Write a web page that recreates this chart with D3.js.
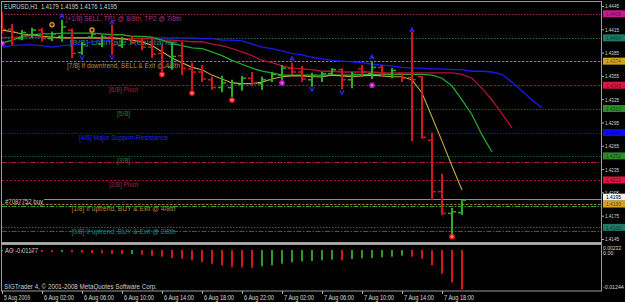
<!DOCTYPE html>
<html><head><meta charset="utf-8">
<script src="https://cdn.jsdelivr.net/npm/d3@7"></script>
<style>
html,body{margin:0;padding:0;background:#000;}
svg{display:block;}
text{font-family:"Liberation Sans",Arial,sans-serif;white-space:pre;}
</style></head><body>
<svg id="c" width="625" height="302"></svg>
<script>
// ---------------- DATA ----------------
const symbolTitle = "EURUSD,H1";
const firstBarTime = Date.UTC(2009, 7, 5, 22);   // 5 Aug 2009 22:00, H1 bars
const barOpen  = [1.4432,1.4415,1.4403,1.4408,1.4414,1.4403,1.4406,1.4414,1.4385,1.4405,1.4396,1.4405,1.4394,1.4402,1.4400,1.4392,1.4384,1.4366,1.4381,1.4364,1.4360,1.4350,1.4340,1.4340,1.4344,1.4352,1.4345,1.4350,1.4356,1.4365,1.4360,1.4350,1.4354,1.4358,1.4363,1.4350,1.4364,1.4358,1.4366,1.4357,1.4358,1.4353,1.4354,1.4272,1.4206,1.4178,1.4179];
const barHigh  = [1.4438,1.4422,1.4414,1.4417,1.4417,1.4412,1.4427,1.4416,1.4399,1.4411,1.4408,1.4421,1.4405,1.4406,1.4404,1.4404,1.4395,1.4399,1.4399,1.4372,1.4369,1.4354,1.4355,1.4350,1.4355,1.4360,1.4354,1.4360,1.4369,1.4372,1.4368,1.4359,1.4360,1.4365,1.4365,1.4360,1.4369,1.4374,1.4369,1.4365,1.4359,1.4412,1.4355,1.4282,1.4229,1.4185,1.4195];
const barLow   = [1.4410,1.4395,1.4401,1.4404,1.4399,1.4400,1.4399,1.4378,1.4382,1.4403,1.4392,1.4382,1.4391,1.4396,1.4388,1.4378,1.4360,1.4363,1.4356,1.4337,1.4347,1.4337,1.4334,1.4328,1.4336,1.4342,1.4337,1.4347,1.4350,1.4356,1.4347,1.4341,1.4347,1.4357,1.4338,1.4339,1.4356,1.4351,1.4354,1.4352,1.4347,1.4271,1.4274,1.4195,1.4176,1.4150,1.4176];
const barClose = [1.4415,1.4402,1.4411,1.4414,1.4403,1.4409,1.4418,1.4384,1.4395,1.4409,1.4405,1.4395,1.4402,1.4398,1.4392,1.4383,1.4366,1.4380,1.4365,1.4360,1.4351,1.4340,1.4346,1.4346,1.4352,1.4345,1.4350,1.4357,1.4365,1.4360,1.4351,1.4355,1.4358,1.4363,1.4350,1.4357,1.4360,1.4366,1.4358,1.4362,1.4352,1.4350,1.4276,1.4206,1.4178,1.4180,1.4195];

// moving average (unshifted, yellow)
const maYellow = [1.4414,1.4412,1.4409,1.4408,1.4406,1.4405,1.4404,1.4404,1.4404,1.4404,1.4404,1.4404,1.4403,1.4401,1.4399,1.4394,1.4386,1.4378,1.4372,1.4366,1.4363,1.4356,1.4351,1.4346,1.4345,1.4345,1.4347,1.4351,1.4354,1.4355,1.4355,1.4354,1.4354,1.4356,1.4355,1.4354,1.4355,1.4356,1.4355,1.4354,1.4354,1.4350,1.4333,1.4302,1.4271,1.4239,1.4208];
// Alligator lines, listed by plotted bar position (already shifted forward)
const alligatorLips  = [1.4397,1.4401,1.4406,1.4408,1.4409,1.4409,1.4410,1.4410,1.4410,1.4410,1.4409,1.4408,1.4408,1.4406,1.4406,1.4405,1.4401,1.4397,1.4394,1.4391,1.4390,1.4386,1.4381,1.4375,1.4370,1.4365,1.4361,1.4359,1.4356,1.4356,1.4356,1.4356,1.4356,1.4356,1.4356,1.4356,1.4357,1.4357,1.4357,1.4357,1.4357,1.4357,1.4357,1.4356,1.4352,1.4342,1.4324,1.4305,1.4279,1.4257];
const alligatorTeeth = [1.4404,1.4405,1.4405,1.4405,1.4405,1.4404,1.4404,1.4404,1.4404,1.4404,1.4403,1.4403,1.4403,1.4403,1.4403,1.4403,1.4401,1.4401,1.4400,1.4399,1.4399,1.4396,1.4394,1.4390,1.4386,1.4381,1.4375,1.4372,1.4368,1.4365,1.4364,1.4363,1.4361,1.4361,1.4360,1.4360,1.4360,1.4360,1.4359,1.4359,1.4359,1.4359,1.4359,1.4359,1.4359,1.4359,1.4357,1.4352,1.4339,1.4324,1.4306,1.4288];
const alligatorJaw   = [1.4392,1.4394,1.4395,1.4395,1.4394,1.4392,1.4394,1.4395,1.4396,1.4399,1.4400,1.4401,1.4403,1.4403,1.4404,1.4404,1.4404,1.4404,1.4404,1.4404,1.4403,1.4403,1.4401,1.4401,1.4400,1.4396,1.4392,1.4390,1.4387,1.4384,1.4382,1.4379,1.4377,1.4375,1.4374,1.4373,1.4372,1.4370,1.4369,1.4368,1.4366,1.4365,1.4365,1.4364,1.4364,1.4363,1.4363,1.4361,1.4361,1.4360,1.4357,1.4347,1.4336,1.4324,1.4314];

// Awesome Oscillator
const aoValues = [-0.0004,-0.0004,-0.0005,-0.0006,-0.0006,-0.0007,-0.0006,-0.0007,-0.0008,-0.0009,-0.0010,-0.0012,-0.0013,-0.0012,-0.0014,-0.0017,-0.0020,-0.0024,-0.0026,-0.0031,-0.0036,-0.0041,-0.0046,-0.0051,-0.0052,-0.0053,-0.0049,-0.0046,-0.0041,-0.0037,-0.0034,-0.0033,-0.0031,-0.0029,-0.0031,-0.0027,-0.0025,-0.0024,-0.0022,-0.0020,-0.0017,-0.0020,-0.0026,-0.0046,-0.0071,-0.0097,-0.01177];
const aoAxisValues = [0.00232, 0, -0.01244];
const aoAxisLabels = ["0.00232", "0.00", "-0.01244"];

// signal markers
const fractalUpIdx   = [6, 11, 29, 37, 41];
const fractalUpPrice = [1.4432, 1.4424, 1.4377, 1.4379, 1.4414];
const fractalDnIdx   = [8, 11, 31, 34];
const fractalDnPrice = [1.4379, 1.4379, 1.4338, 1.4334];
const orangeSigIdx   = [5, 9];
const orangeSigPrice = [1.4421, 1.4414];
const redSigIdx      = [16, 19, 23, 45];
const redSigPrice    = [1.4357, 1.4333, 1.4324, 1.4148];
const magSigIdx      = [0, 28, 37];
const magSigPrice    = [1.4397, 1.4346, 1.4343];

// Murrey math levels
const mmLevels = [1.4435, 1.4404, 1.4374, 1.4343, 1.4313, 1.4282, 1.4252, 1.4221, 1.4190, 1.4160];
const mmLabels = ["[+1/8] SELL, TP1 @ 8/8th, TP2 @ 7/8th", "[8/8] Ultimate Resistance", "[7/8] If downtrend, SELL & Exit @ 4/8th", "[6/8] Pivot", "[5/8]", "[4/8] Major Support-Resistance", "[3/8]", "[2/8] Pivot", "[1/8] If uptrend, BUY & Exit @ 4/8th", "[0/8] If uptrend, BUY & Exit @ 2/8th"];

// order / price lines
const orderTicket = "#7087752 buy";
const orderOpenPrice = 1.4188;
const takeProfitPrice = 1.4244;
const stopLossPrice = 1.41555;
const bidPrice = 1.4195;

// axis ticks
const priceTicks = [1.4445, 1.4415, 1.4385, 1.4355, 1.4325, 1.4295, 1.4265, 1.4235, 1.4205, 1.4175, 1.4145];
const timeTickLabels = ["5 Aug 2009", "6 Aug 02:00", "6 Aug 06:00", "6 Aug 10:00", "6 Aug 14:00", "6 Aug 18:00", "6 Aug 22:00", "7 Aug 02:00", "7 Aug 06:00", "7 Aug 10:00", "7 Aug 14:00", "7 Aug 18:00"];
const copyrightText = "SIGTrader 4, \u00a9 2001-2008 MetaQuotes Software Corp.";

// ---------------- DRAW ----------------
const HOUR = 3600e3;
const tOf = i => new Date(firstBarTime + i * HOUR);
const x = d3.scaleUtc().domain([tOf(0), tOf(24)]).range([2, 242]);
const y = d3.scaleLinear().domain([1.4145, 1.4445]).range([239, 6]);
const yAO = d3.scaleLinear().domain([-0.01244, 0.00232]).range([291.7, 242.2]);
const f4 = v => v.toFixed(4);

const svg = d3.select('#c');
svg.append('rect').attr('width', 625).attr('height', 302).attr('fill', '#000');
const defs = svg.append('defs');
defs.append('clipPath').attr('id', 'cm').append('rect').attr('x', 2).attr('y', 2).attr('width', 599.5).attr('height', 240.5);
defs.append('clipPath').attr('id', 'ca').append('rect').attr('x', 2).attr('y', 246).attr('width', 599.5).attr('height', 44.5);

const gm = svg.append('g').attr('clip-path', 'url(#cm)');

// Murrey math lines
const mmStyle = [
  {s:'#9c1f78', d:'1.5,1.5', t:'#a8347f'},
  {s:'#13705e', d:'1.5,1.5', t:'#1f8a86'},
  {s:'#a07a30', d:'2.5,1.5', t:'#c08a30'},
  {s:'#a3103c', d:'2.5,1.5', t:'#a3204e'},
  {s:'#175c34', d:'1.5,1.5', t:'#25803a'},
  {s:'#1414e0', d:'1.5,1.5', t:'#2424f0'},
  {s:'#175c34', d:'1.5,1.5', t:'#25803a'},
  {s:'#a3103c', d:'2.5,1.5', t:'#a3204e'},
  {s:'#a07a30', d:'2.5,1.5', t:'#c08a30'},
  {s:'#13705e', d:'1.5,1.5', t:'#1f8a86'}
];
const mmTextW = [116, 108, 113, 29, 13, 89, 13, 29, 104, 104];
mmLevels.forEach((p, i) => {
  const yy = Math.round(y(p)) + 0.5;
  gm.append('line').attr('x1', 2).attr('x2', 602).attr('y1', yy).attr('y2', yy)
    .attr('stroke', mmStyle[i].s).attr('stroke-width', 1).attr('stroke-dasharray', mmStyle[i].d);
});
mmLevels.forEach((p, i) => {
  gm.append('text').attr('x', 123.5).attr('y', y(p) + 7).attr('text-anchor', 'middle')
    .attr('font-size', 6.5).attr('fill', mmStyle[i].t)
    .attr('textLength', mmTextW[i]).attr('lengthAdjust', 'spacingAndGlyphs').text(mmLabels[i]);
});

// order lines
[[takeProfitPrice, '#b01450', '5,1.5,1.5,1.5'], [orderOpenPrice, '#2ea82e', '5,1.5,1.5,1.5'], [stopLossPrice, '#d8141e', '5,1.5,1.5,1.5']]
  .forEach(([p, c, d]) => {
    const yy = Math.round(y(p)) + 0.5;
    gm.append('line').attr('x1', 2).attr('x2', 602).attr('y1', yy).attr('y2', yy)
      .attr('stroke', c).attr('stroke-width', 1).attr('stroke-dasharray', d);
  });
// bid line
gm.append('line').attr('x1', 44).attr('x2', 602).attr('y1', Math.round(y(bidPrice)) - 0.5).attr('y2', Math.round(y(bidPrice)) - 0.5)
  .attr('stroke', '#8a8f96').attr('stroke-width', 1);
gm.append('text').attr('x', 5).attr('y', y(orderOpenPrice) - 2).attr('font-size', 6.5).attr('fill', '#c8c8c8')
  .attr('textLength', 38).attr('lengthAdjust', 'spacingAndGlyphs').text(orderTicket);

// MA lines
const lineGen = d3.line().x((d, i) => x(tOf(i))).y(d => y(d));
gm.append('path').attr('d', lineGen(alligatorJaw)).attr('fill', 'none').attr('stroke', '#1a1aee').attr('stroke-width', 1.3);
gm.append('path').attr('d', lineGen(alligatorTeeth)).attr('fill', 'none').attr('stroke', '#b3103a').attr('stroke-width', 1.3);
gm.append('path').attr('d', lineGen(alligatorLips)).attr('fill', 'none').attr('stroke', '#22a82e').attr('stroke-width', 1.3);
gm.append('path').attr('d', lineGen(maYellow)).attr('fill', 'none').attr('stroke', '#c4aa44').attr('stroke-width', 1.1);

// OHLC bars
const bars = barOpen.map((o, i) => ({i, o, h: barHigh[i], l: barLow[i], c: barClose[i]}));
const bg = gm.append('g');
bars.forEach(b => {
  const cx = Math.round(x(tOf(b.i)));
  const col = b.c > b.o ? '#2aae2a' : '#d4161e';
  bg.append('rect').attr('x', cx - 1).attr('y', y(b.h)).attr('width', 2).attr('height', Math.max(1, y(b.l) - y(b.h))).attr('fill', col);
  bg.append('rect').attr('x', cx - 4).attr('y', y(b.o) - 0.75).attr('width', 3).attr('height', 1.5).attr('fill', col);
  bg.append('rect').attr('x', cx + 1).attr('y', y(b.c) - 0.75).attr('width', 3).attr('height', 1.5).attr('fill', col);
});

// markers
fractalUpIdx.forEach((bi, k) => {
  gm.append('path').attr('transform', `translate(${x(tOf(bi))},${y(fractalUpPrice[k])})`)
    .attr('d', 'M-2.2,2L0,-2L2.2,2M-1.2,0.6H1.2').attr('fill', 'none').attr('stroke', '#2a2aff').attr('stroke-width', 1.2);
});
fractalDnIdx.forEach((bi, k) => {
  gm.append('path').attr('transform', `translate(${x(tOf(bi))},${y(fractalDnPrice[k])})`)
    .attr('d', 'M-2.2,-2L0,2L2.2,-2').attr('fill', 'none').attr('stroke', '#2a2aff').attr('stroke-width', 1.2);
});
orangeSigIdx.forEach((bi, k) => {
  gm.append('circle').attr('cx', x(tOf(bi))).attr('cy', y(orangeSigPrice[k])).attr('r', 2.1)
    .attr('fill', '#3a2000').attr('stroke', '#e8902a').attr('stroke-width', 1.3);
});
redSigIdx.forEach((bi, k) => {
  gm.append('circle').attr('cx', x(tOf(bi))).attr('cy', y(redSigPrice[k])).attr('r', 2.2)
    .attr('fill', '#ff7a7a').attr('stroke', '#e01818').attr('stroke-width', 1.3);
});
magSigIdx.forEach((bi, k) => {
  gm.append('circle').attr('cx', x(tOf(bi))).attr('cy', y(magSigPrice[k])).attr('r', 2.2)
    .attr('fill', '#e85ae8').attr('stroke', '#b414b4').attr('stroke-width', 1.3);
});

// header
const last = bars.length - 1;
gm.append('text').attr('x', 4).attr('y', 9).attr('font-size', 6.8).attr('fill', '#d4d4d4')
  .attr('textLength', 113).attr('lengthAdjust', 'spacingAndGlyphs')
  .text(`${symbolTitle}  ${f4(barOpen[last])} ${f4(barHigh[last])} ${f4(barLow[last])} ${f4(barClose[last])}`);

// ---------------- AO pane ----------------
const ga = svg.append('g').attr('clip-path', 'url(#ca)');
aoValues.forEach((v, i) => {
  const up = i === 0 ? true : v > aoValues[i - 1];
  const cx = Math.round(x(tOf(i)));
  const y0 = yAO(0), y1 = yAO(v);
  ga.append('rect').attr('x', cx - 1).attr('y', Math.min(y0, y1)).attr('width', 2)
    .attr('height', Math.max(1, Math.abs(y1 - y0))).attr('fill', up ? '#2a9a2a' : '#d4141e');
});
ga.append('text').attr('x', 5).attr('y', 252.5).attr('font-size', 6.5).attr('fill', '#d0d0d0')
  .attr('textLength', 33).attr('lengthAdjust', 'spacingAndGlyphs')
  .text('AO ' + aoValues[aoValues.length - 1].toFixed(5));
ga.append('text').attr('x', 4).attr('y', 289).attr('font-size', 6.5).attr('fill', '#d0d0d0')
  .attr('textLength', 153).attr('lengthAdjust', 'spacingAndGlyphs').text(copyrightText);

// frames
svg.append('rect').attr('x', 1.5).attr('y', 1.5).attr('width', 600).attr('height', 241).attr('fill', 'none').attr('stroke', '#9a9a9a');
svg.append('rect').attr('x', 1.5).attr('y', 244.5).attr('width', 600).attr('height', 46.5).attr('fill', 'none').attr('stroke', '#9a9a9a');
svg.append('line').attr('x1', 1).attr('x2', 602).attr('y1', 243.5).attr('y2', 243.5).attr('stroke', '#b4b4b4');

// price axis
const pa = svg.append('g').attr('transform', 'translate(602,0)')
  .call(d3.axisRight(y).tickValues(priceTicks).tickSize(2).tickPadding(1).tickFormat(f4));
pa.select('.domain').remove();
pa.selectAll('line').attr('stroke', '#b0b0b0');
pa.selectAll('text').attr('font-size', 6).attr('fill', '#d8d8d8').attr('font-family', '"Liberation Sans",Arial,sans-serif')
  .attr('textLength', 14).attr('lengthAdjust', 'spacingAndGlyphs');

// level boxes
const boxCols = ['#c8198e', '#1d7a66', '#d4a024', '#dc1440', '#2c8a2c', '#0a0aff', '#2c8a2c', '#dc1440'];
const boxes = mmLevels.slice(0, 8).map((p, i) => ({p, c: boxCols[i], t: 'rgba(0,0,0,0.55)'}));
boxes.push({p: bidPrice, c: '#f2f2f2', t: '#000', dy: -3});
boxes.push({p: mmLevels[8], c: '#d4a024', t: 'rgba(0,0,0,0.6)'});
boxes.push({p: mmLevels[9], c: '#1d7a66', t: 'rgba(0,0,0,0.55)'});
boxes.forEach(b => {
  const cy = y(b.p) + (b.dy || 0);
  svg.append('rect').attr('x', 603).attr('y', cy - 3.5).attr('width', 22).attr('height', 7).attr('fill', b.c);
  svg.append('text').attr('x', 606).attr('y', cy + 2.3).attr('font-size', 6).attr('fill', b.t)
    .attr('textLength', 15).attr('lengthAdjust', 'spacingAndGlyphs').text(f4(b.p));
});

// AO axis
const aoDy = [5.6, 3.2, -5.2];
const aa = svg.append('g').attr('transform', 'translate(602,0)')
  .call(d3.axisRight(yAO).tickValues(aoAxisValues).tickSize(0).tickPadding(1).tickFormat((d, i) => aoAxisLabels[i]));
aa.select('.domain').remove();
aa.selectAll('text').attr('font-size', 5.6).attr('fill', '#d8d8d8').attr('font-family', '"Liberation Sans",Arial,sans-serif')
  .each(function (d, i) {
    d3.select(this).attr('transform', `translate(0,${aoDy[i]})`)
      .attr('textLength', aoAxisLabels[i].length * 2.6).attr('lengthAdjust', 'spacingAndGlyphs');
  });

// time axis
const timeTicks = timeTickLabels.map((d, k) => tOf(4 * k));
const ta = svg.append('g').attr('transform', 'translate(0,291)')
  .call(d3.axisBottom(x).tickValues(timeTicks).tickSize(3).tickPadding(1).tickFormat((d, i) => timeTickLabels[i]));
ta.select('.domain').remove();
ta.selectAll('line').attr('stroke', '#b0b0b0');
ta.selectAll('text').attr('font-size', 6.5).attr('fill', '#d8d8d8').attr('font-family', '"Liberation Sans",Arial,sans-serif')
  .attr('text-anchor', 'start').attr('dx', 1.5)
  .each(function (d, i) {
    d3.select(this).attr('textLength', i === 0 ? 26 : 30).attr('lengthAdjust', 'spacingAndGlyphs');
  });
</script></body></html>
